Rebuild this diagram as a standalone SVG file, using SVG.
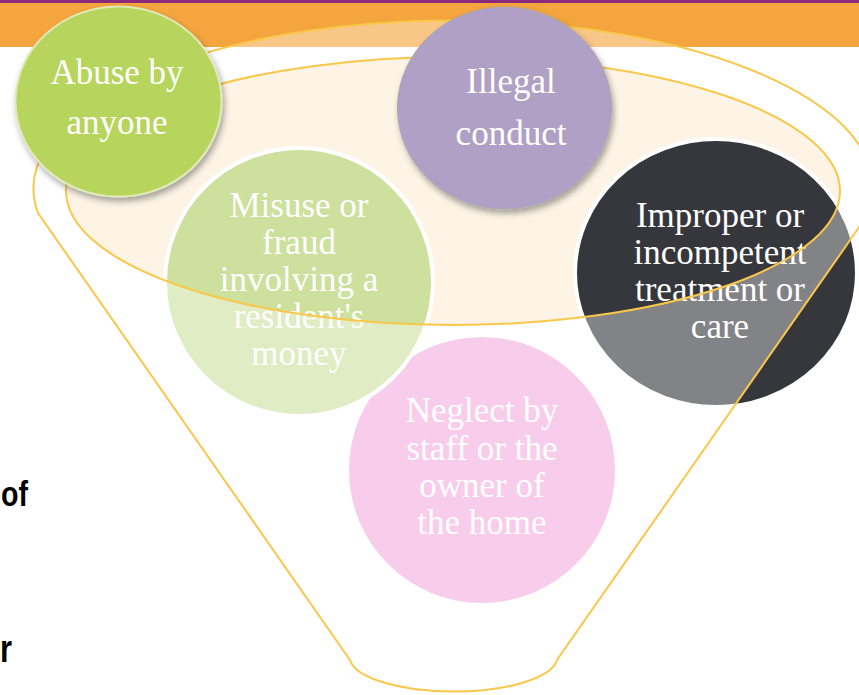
<svg xmlns="http://www.w3.org/2000/svg" width="859" height="695" viewBox="0 0 859 695">
  <defs>
    <style>
      .lbl { font-family: "Liberation Serif", "Times New Roman", serif; font-size: 35px; fill: #ffffff; text-anchor: middle; }
      .side { font-family: "Liberation Sans", Arial, sans-serif; font-weight: bold; fill: #000000; }
      .rim { fill: none; stroke: #f9c74a; stroke-width: 2; }
    </style>
    <filter id="shadow" x="-20%" y="-20%" width="140%" height="150%">
      <feDropShadow dx="2" dy="4" stdDeviation="3" flood-color="#000000" flood-opacity="0.35"/>
    </filter>
  </defs>

  <!-- page background and header bars -->
  <rect x="0" y="0" width="859" height="695" fill="#ffffff"/>
  <rect x="0" y="0" width="859" height="47" fill="#f4a53e"/>
  <rect x="0" y="0" width="859" height="3" fill="#8b2a7a"/>

  <!-- left margin text fragments -->
  <text class="side" x="1" y="506" font-size="35" textLength="27" lengthAdjust="spacingAndGlyphs">of</text>
  <text class="side" x="0" y="662" font-size="38" textLength="12" lengthAdjust="spacingAndGlyphs">r</text>

  <!-- funnel mouth (cream interior) -->
  <ellipse id="funnel-mouth" cx="453" cy="191" rx="387" ry="134" fill="#fdf4e6"/>

  <!-- nodes inside the funnel -->
  <g id="node-neglect">
    <circle cx="482" cy="470" r="133" fill="#f4aedf"/>
    <text class="lbl" x="482" y="422">Neglect by</text>
    <text class="lbl" x="482" y="460">staff  or the</text>
    <text class="lbl" x="482" y="497">owner of</text>
    <text class="lbl" x="482" y="534">the home</text>
  </g>

  <g id="node-misuse">
    <circle cx="299" cy="282" r="134" fill="#cde09e" stroke="#ffffff" stroke-width="4"/>
    <text class="lbl" x="299" y="217">Misuse or</text>
    <text class="lbl" x="299" y="254">fraud</text>
    <text class="lbl" x="299" y="291">involving a</text>
    <text class="lbl" x="299" y="328">resident's</text>
    <text class="lbl" x="299" y="365">money</text>
  </g>

  <g id="node-improper">
    <ellipse cx="716" cy="273" rx="141" ry="134" fill="#36373c" stroke="#ffffff" stroke-width="4"/>
    <text class="lbl" x="720" y="227">Improper or</text>
    <text class="lbl" x="720" y="264">incompetent</text>
    <text class="lbl" x="720" y="301">treatment or</text>
    <text class="lbl" x="720" y="338">care</text>
  </g>

  <!-- funnel body: translucent glass over everything below the mouth -->
  <g id="connectors">
    <path d="M350,660 L38,213 A420,168 0 1,1 869,213 L557,660 A104,35 0 0,1 350,660 Z
             M66,191 A387,134 0 1,0 840,191 A387,134 0 1,0 66,191 Z"
          fill="#ffffff" fill-opacity="0.38" fill-rule="evenodd"/>
    <path class="rim" d="M350,660 L38,213 A420,168 0 1,1 869,213 L557,660 A104,35 0 0,1 350,660 Z"/>
    <ellipse class="rim" cx="453" cy="191" rx="387" ry="134"/>
  </g>

  <!-- nodes floating above the funnel -->
  <g id="node-abuse">
    <ellipse cx="118.5" cy="101.5" rx="103" ry="95" fill="#b7d45c" stroke="#dfeab8" stroke-width="2" filter="url(#shadow)"/>
    <text class="lbl" x="117" y="84">Abuse by</text>
    <text class="lbl" x="117" y="134">anyone</text>
  </g>

  <g id="node-illegal">
    <ellipse cx="504.5" cy="108" rx="107" ry="101" fill="#b1a0c5" stroke="#a9a6b0" stroke-width="1" filter="url(#shadow)"/>
    <text class="lbl" x="511" y="93">Illegal</text>
    <text class="lbl" x="511" y="145">conduct</text>
  </g>
</svg>
